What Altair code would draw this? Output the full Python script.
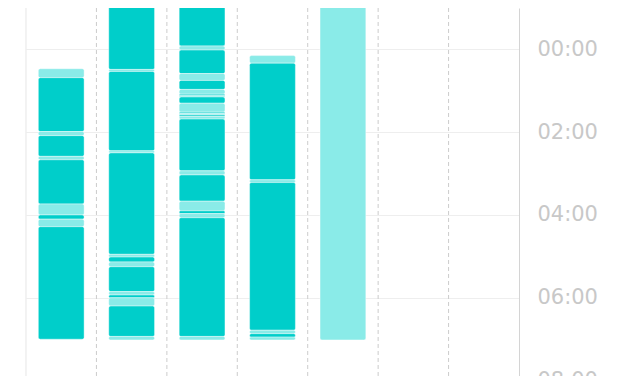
import altair as alt
import pandas as pd

# Sleep segments per night (column index 0..6), times as HH:MM
seg_day = (
    [0] * 10 + [1] * 14 + [2] * 22 + [3] * 7 + [4] * 1
)
seg_start = [
    # night 1
    "00:28", "00:41", "01:59", "02:05", "02:35", "02:40", "03:44", "04:00", "04:06", "04:17",
    # night 2
    "22:50", "00:29", "00:32", "02:27", "02:30", "04:57", "05:01", "05:08", "05:15", "05:51",
    "05:56", "06:00", "06:12", "06:56",
    # night 3
    "22:40", "23:55", "00:01", "00:35", "00:45", "00:58", "01:05", "01:07", "01:09", "01:18",
    "01:31", "01:33", "01:35", "01:37", "01:41", "02:56", "03:02", "03:40", "03:54", "03:58",
    "04:04", "06:56",
    # night 4
    "00:09", "00:20", "03:09", "03:13", "06:47", "06:52", "06:57",
    # night 5
    "22:50",
]
seg_end = [
    "00:41", "01:59", "02:05", "02:35", "02:40", "03:44", "04:00", "04:06", "04:17", "07:00",
    "00:29", "00:32", "02:27", "02:30", "04:57", "05:01", "05:08", "05:15", "05:51", "05:56",
    "06:00", "06:12", "06:56", "07:01",
    "23:55", "00:01", "00:35", "00:45", "00:58", "01:05", "01:07", "01:09", "01:18", "01:31",
    "01:33", "01:35", "01:37", "01:41", "02:56", "03:02", "03:40", "03:54", "03:58", "04:04",
    "06:56", "07:01",
    "00:20", "03:09", "03:13", "06:47", "06:52", "06:57", "07:01",
    "07:01",
]
seg_stage = [
    "light", "deep", "light", "deep", "light", "deep", "light", "deep", "light", "deep",
    "deep", "light", "deep", "light", "deep", "light", "deep", "light", "deep", "light",
    "deep", "light", "deep", "light",
    "deep", "light", "deep", "light", "deep", "light", "deep", "light", "deep", "light",
    "deep", "light", "deep", "light", "deep", "light", "deep", "light", "deep", "light",
    "deep", "light",
    "light", "deep", "light", "deep", "light", "deep", "light",
    "light",
]

n_days = 7
column_bounds = [1, 2, 3, 4, 5, 6]
tick_hours = [0, 2, 4, 6, 8]
tick_labels = ["00:00", "02:00", "04:00", "06:00", "08:00"]
stage_names = ["deep", "light"]
stage_colors = ["#00CECA", "#8AEBE8"]


def to_hours(s):
    h, m = map(int, s.split(":"))
    v = h + m / 60
    return v - 24 if h >= 12 else v


df = pd.DataFrame({
    "day": seg_day,
    "start": [to_hours(s) for s in seg_start],
    "end": [to_hours(s) for s in seg_end],
    "stage": seg_stage,
})
df["x0"] = df["day"] + 0.175
df["x1"] = df["day"] + 0.825

W = 493
H = 372.6
y_dom = [-1, 8]

xs = alt.Scale(domain=[0, n_days], nice=False, zero=False)
ys = alt.Scale(domain=y_dom, reverse=True, nice=False, zero=False)

label_expr = " : ".join(
    [f"datum.value == {h} ? '{t}'" for h, t in zip(tick_hours, tick_labels)] + ["''"]
)

y_axis = alt.Axis(
    orient="right",
    values=tick_hours,
    labelExpr=label_expr,
    grid=True,
    gridColor="#eeeeee",
    gridWidth=1,
    domain=True,
    domainColor="#d4d4d4",
    domainWidth=1,
    ticks=False,
    tickSize=0,
    labelPadding=18,
    labelFont="DejaVu Sans",
    labelFontSize=21,
    labelColor="#c8c8c8",
    labelAlign="left",
    labelBaseline="middle",
    labelFlush=False,
    labelOverlap=False,
    title=None,
)

dashed = alt.Chart(pd.DataFrame({"b": column_bounds})).mark_rule(
    color="#cccccc", strokeDash=[4, 3], strokeWidth=1
).encode(
    x=alt.X("b:Q", scale=xs, axis=None),
    y=alt.value(0),
    y2=alt.value(H),
)

left_line = alt.Chart(pd.DataFrame({"b": [0]})).mark_rule(
    color="#e6e6e6", strokeWidth=1
).encode(
    x=alt.X("b:Q", scale=xs, axis=None),
    y=alt.value(0),
    y2=alt.value(H),
)

bars = alt.Chart(df).mark_rect(
    cornerRadius=2, stroke="white", strokeWidth=0.4, clip=True
).encode(
    x=alt.X("x0:Q", scale=xs, axis=None),
    x2="x1:Q",
    y=alt.Y("start:Q", scale=ys, axis=y_axis),
    y2="end:Q",
    color=alt.Color(
        "stage:N",
        scale=alt.Scale(domain=stage_names, range=stage_colors),
        legend=None,
    ),
)

chart = (
    alt.layer(left_line, dashed, bars)
    .properties(
        width=W,
        height=H,
        padding={"left": 18, "top": 0, "right": 100, "bottom": 0},
        autosize=alt.AutoSizeParams(type="none"),
    )
    .configure_view(stroke=None)
)

chart.save("out.html", embed_options={"renderer": "svg", "actions": False})
